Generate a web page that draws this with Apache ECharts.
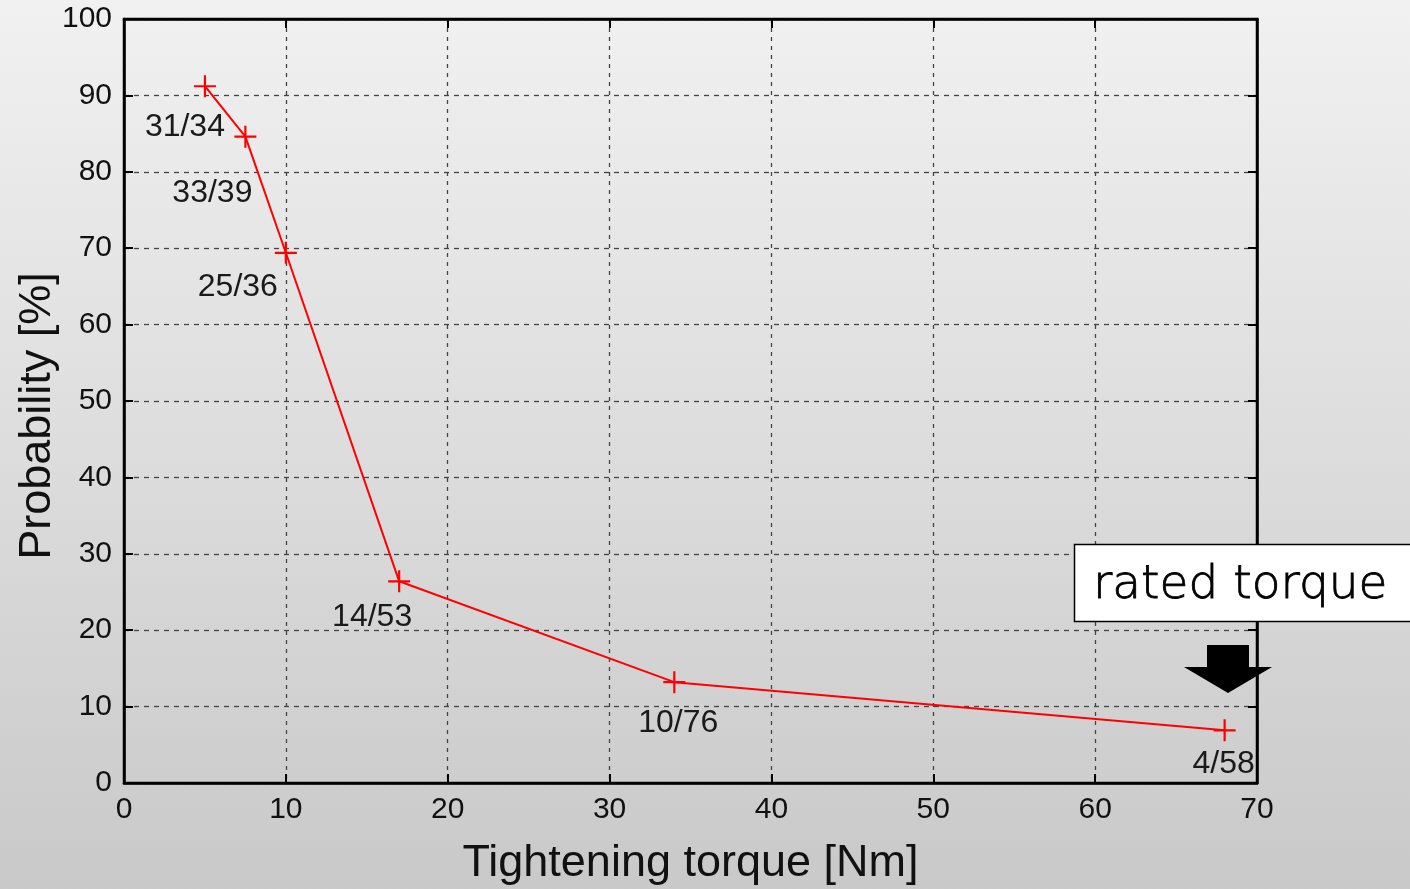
<!DOCTYPE html>
<html>
<head>
<meta charset="utf-8">
<script src="https://cdn.jsdelivr.net/npm/echarts@6/dist/echarts.min.js"></script>
<style>
  html, body { margin: 0; padding: 0; }
  #container { width: 1410px; height: 889px; }
</style>
</head>
<body>
<div id="container"></div>
<script>
// data
var torque = [5, 7.5, 10, 17, 34, 68];
var probability = [91.2, 84.6, 69.4, 26.4, 13.2, 6.9];
var counts = ['31/34', '33/39', '25/36', '14/53', '10/76', '4/58'];
// where each count label sits relative to its point (px)
var labelOffsets = [[-20, 41], [-33, 57], [-48, 34], [-27, 36], [4, 41], [-1, 34]];

var dom = document.getElementById('container');
var myChart = echarts.init(dom);

var font = 'Liberation Sans, Arial, sans-serif';
var points = torque.map(function (t, i) {
    return {
        value: [t, probability[i]],
        label: { formatter: counts[i], offset: labelOffsets[i] }
    };
});

var plus = 'path://M0,9 H20 V11 H0 Z M9,0 H11 V20 H9 Z';
var tick = { show: true, inside: true, length: 9, lineStyle: { color: '#000', width: 2 } };
var line = { show: true, onZero: false, lineStyle: { color: '#000', width: 2.5 } };

var option = {
    backgroundColor: {
        type: 'linear', x: 0, y: 0, x2: 0, y2: 1,
        colorStops: [{ offset: 0, color: '#f1f1f1' }, { offset: 1, color: '#c9c9c9' }]
    },
    animation: false,
    grid: {
        left: 124, top: 19, width: 1133, height: 764,
        outerBoundsMode: 'none', containLabel: false,
        show: true, borderColor: '#000', borderWidth: 2.5, backgroundColor: 'transparent'
    },
    xAxis: [{
        type: 'value', min: 0, max: 70, interval: 10,
        name: 'Tightening torque [Nm]', nameLocation: 'middle', nameGap: 58, nameMoveOverlap: false,
        nameTextStyle: { fontFamily: font, fontSize: 45, color: '#111' },
        axisLine: line,
        axisTick: tick,
        axisLabel: { fontFamily: font, fontSize: 30, color: '#111', margin: 12 },
        splitLine: { show: true, lineStyle: { color: '#444', type: [4, 5], width: 1.3 } }
    }, {
        type: 'value', position: 'top', min: 0, max: 70, interval: 10,
        axisLine: line,
        axisTick: tick,
        axisLabel: { show: false }, splitLine: { show: false }
    }],
    yAxis: [{
        type: 'value', min: 0, max: 100, interval: 10,
        name: 'Probability [%]', nameLocation: 'middle', nameGap: 64, nameMoveOverlap: false,
        nameTextStyle: { fontFamily: font, fontSize: 45, color: '#111', padding: [0, 30, 0, 0] },
        axisLine: line,
        axisTick: tick,
        axisLabel: { fontFamily: font, fontSize: 30, color: '#111', margin: 12 },
        splitLine: { show: true, lineStyle: { color: '#444', type: [5, 5], width: 1.3 } }
    }, {
        type: 'value', position: 'right', min: 0, max: 100, interval: 10,
        axisLine: line,
        axisTick: tick,
        axisLabel: { show: false }, splitLine: { show: false }
    }],
    series: [{
        type: 'line',
        data: points,
        symbol: plus,
        symbolSize: 22,
        showAllSymbol: true,
        lineStyle: { color: '#ff0000', width: 2 },
        itemStyle: { color: '#ff0000' },
        label: {
            show: true, position: 'inside',
            fontFamily: font, fontSize: 32, color: '#1a1a1a'
        },
        z: 5
    }],
    graphic: [{
        type: 'rect', z: 100,
        shape: { x: 1074.5, y: 544.5, width: 345, height: 77 },
        style: { fill: '#fff', stroke: '#000', lineWidth: 1.5 }
    }, {
        type: 'text', z: 101, x: 1093, y: 586,
        style: {
            text: 'rated torque', fill: '#000', stroke: '#000', lineWidth: 0.8,
            font: '200 47px "DejaVu Sans", sans-serif', textVerticalAlign: 'middle'
        }
    }, {
        type: 'polygon', z: 100,
        shape: { points: [[1207, 645], [1249, 645], [1249, 667], [1272, 667], [1228, 693], [1184, 667], [1207, 667]] },
        style: { fill: '#000' }
    }]
};
myChart.setOption(option, true);
</script>
</body>
</html>
